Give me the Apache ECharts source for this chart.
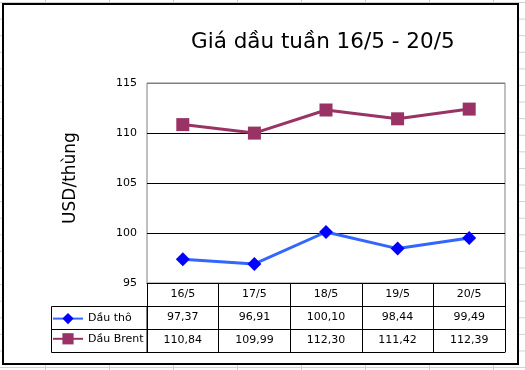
<!DOCTYPE html>
<html>
<head>
<meta charset="utf-8">
<script src="https://cdn.jsdelivr.net/npm/echarts@6/dist/echarts.min.js"></script>
<style>
  html, body { margin: 0; padding: 0; }
  body {
    width: 525px; height: 370px; overflow: hidden; position: relative;
    background-color: #fff;
    background-image:
      linear-gradient(to right, #d0d0d0 1px, transparent 1px),
      linear-gradient(to bottom, #d0d0d0 1px, transparent 1px);
    background-size: 64px 100%, 100% 16.6px;
    background-position: 45px 0, 0 2px;
  }
  #frame {
    position: absolute; left: 2px; top: 3px; width: 517px; height: 362px;
    box-sizing: border-box; border: 2px solid #000; background: #fff;
  }
  #main { position: absolute; left: 0; top: 0; width: 525px; height: 370px; }
</style>
</head>
<body>
<div id="frame"></div>
<div id="main"></div>
<script>
// ---- data ----
const categories = ['16/5', '17/5', '18/5', '19/5', '20/5'];
const crudeOil = [97.37, 96.91, 100.10, 98.44, 99.49];   // Dầu thô
const brent = [110.84, 109.99, 112.30, 111.42, 112.39];   // Dầu Brent
const seriesNames = ['Dầu thô', 'Dầu Brent'];
const yTicks = { min: 95, max: 115, interval: 5 };
const titleText = 'Giá dầu tuần 16/5 - 20/5';
const yAxisName = 'USD/thùng';

const fmt = v => v.toFixed(2).replace('.', ',');
const FONT = 'DejaVu Sans';

const chart = echarts.init(document.getElementById('main'), null, { renderer: 'canvas' });

const tableAxis = (data, offset, showLabel) => ({
  type: 'category',
  gridIndex: 0,
  position: 'bottom',
  offset: offset,
  data: data,
  boundaryGap: true,
  axisLine: { show: true, lineStyle: { color: '#000', width: 1 } },
  axisTick: { show: false },
  axisLabel: { show: showLabel, color: '#000', fontFamily: FONT, fontSize: 11, margin: 6, interval: 0 },
  splitLine: { show: false }
});

chart.setOption({
  animation: false,
  backgroundColor: 'transparent',
  title: {
    text: titleText,
    left: 191,
    top: 31,
    padding: 0,
    textStyle: { fontFamily: FONT, fontSize: 21.5, fontWeight: 'normal', color: '#000' }
  },
  legend: {
    orient: 'vertical',
    left: 52,
    top: 313,
    padding: 0,
    itemWidth: 30,
    itemHeight: 14,
    itemGap: 9,
    data: seriesNames,
    textStyle: { fontFamily: FONT, fontSize: 11, color: '#000' }
  },
  grid: {
    left: 147, top: 83, width: 358, height: 200,
    show: true, borderColor: '#808080', borderWidth: 1, backgroundColor: 'transparent'
  },
  xAxis: [
    {
      type: 'category',
      gridIndex: 0,
      position: 'bottom',
      data: categories,
      boundaryGap: true,
      axisLine: { show: true, lineStyle: { color: '#000', width: 1 } },
      axisTick: { show: true, length: 69, alignWithLabel: false, lineStyle: { color: '#000', width: 1 } },
      axisLabel: { color: '#000', fontFamily: FONT, fontSize: 11, margin: 6, interval: 0 },
      splitLine: { show: false }
    },
    tableAxis(crudeOil.map(fmt), 23, true),
    tableAxis(brent.map(fmt), 46, true),
    tableAxis(categories.map(() => ''), 69, false)
  ],
  yAxis: {
    type: 'value',
    min: yTicks.min, max: yTicks.max, interval: yTicks.interval,
    name: yAxisName,
    nameLocation: 'middle',
    nameRotate: 90,
    nameGap: 68,
    nameTextStyle: { fontFamily: FONT, fontSize: 17, color: '#000', padding: [0, 0, 0, 10] },
    axisLine: { show: false },
    axisTick: { show: false },
    axisLabel: { color: '#000', fontFamily: FONT, fontSize: 11, margin: 10 },
    splitLine: { show: true, lineStyle: { color: ['#000', '#000', '#000', '#000', '#808080'], width: 1 } }
  },
  graphic: [
    {
      type: 'rect',
      shape: { x: 51.5, y: 306.5, width: 95.5, height: 46 },
      style: { fill: 'none', stroke: '#000', lineWidth: 1 },
      z: 10
    },
    {
      type: 'line',
      shape: { x1: 51.5, y1: 329.5, x2: 147, y2: 329.5 },
      style: { stroke: '#000', lineWidth: 1 },
      z: 10
    }
  ],
  series: [
    {
      name: seriesNames[0],
      type: 'line',
      xAxisIndex: 0,
      data: crudeOil,
      symbol: 'diamond',
      symbolSize: 14,
      lineStyle: { color: '#3366FF', width: 3 },
      itemStyle: { color: '#0000FF', borderWidth: 0 },
      z: 5
    },
    {
      name: seriesNames[1],
      type: 'line',
      xAxisIndex: 0,
      data: brent,
      symbol: 'rect',
      symbolSize: 13,
      lineStyle: { color: '#993366', width: 3 },
      itemStyle: { color: '#993366', borderWidth: 0 },
      z: 5
    }
  ]
});
</script>
</body>
</html>
